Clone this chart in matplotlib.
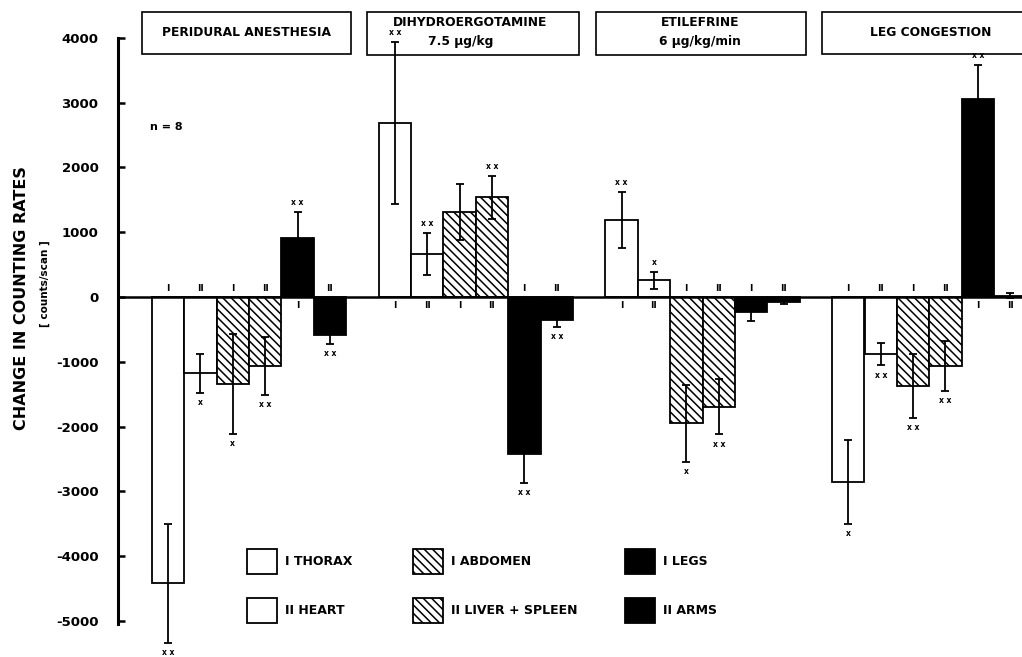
import matplotlib
matplotlib.use("Agg")
import matplotlib.pyplot as plt
from matplotlib.patches import Rectangle
import numpy as np

plt.rcParams['font.family'] = ['DejaVu Sans']
plt.rcParams['font.weight'] = 'bold'
plt.rcParams['hatch.linewidth'] = 1.1

# ---------------- data ----------------
conditions = [["PERIDURAL ANESTHESIA"], ["DIHYDROERGOTAMINE", "7.5 µg/kg"],
              ["ETILEFRINE", "6 µg/kg/min"], ["LEG CONGESTION"]]
regions = ["THORAX", "HEART", "ABDOMEN", "LIVER + SPLEEN", "LEGS", "ARMS"]
roman = ["I", "II", "I", "II", "I", "II"]

thorax = [-4420, 2680, 1190, -2850]
heart = [-1180, 660, 260, -880]
abdomen = [-1340, 1310, -1950, -1370]
liver = [-1060, 1540, -1690, -1070]
legs = [910, -2420, -230, 3050]
arms = [-590, -350, -70, 20]

thorax_err = [920, 1250, 430, 650]
heart_err = [300, 320, 130, 175]
abdomen_err = [770, 430, 590, 495]
liver_err = [450, 330, 430, 385]
legs_err = [400, 450, 140, 530]
arms_err = [130, 110, 40, 40]

thorax_sig = ["xx", "xx", "xx", "x"]
heart_sig = ["x", "xx", "x", "xx"]
abdomen_sig = ["x", "", "x", "xx"]
liver_sig = ["xx", "xx", "xx", "xx"]
legs_sig = ["xx", "xx", "", "xx"]
arms_sig = ["xx", "xx", "", ""]

yticks = [4000, 3000, 2000, 1000, 0, -1000, -2000, -3000, -4000, -5000]

series = [thorax, heart, abdomen, liver, legs, arms]
errors = [thorax_err, heart_err, abdomen_err, liver_err, legs_err, arms_err]
sigs = [thorax_sig, heart_sig, abdomen_sig, liver_sig, legs_sig, arms_sig]
fills = ["white", "white", "white", "white", "black", "black"]
hatches = [None, None, "\\\\\\\\", "\\\\\\\\", None, None]

# ---------------- figure ----------------
W, H = 1022, 657
fig = plt.figure(figsize=(W / 100, H / 100), dpi=100)

def fx(x):
    return x / W

def fy(y):
    return 1 - y / H

ax_left = 118
ax = fig.add_axes([fx(ax_left), 0, 1 - fx(ax_left), 1])
zero_px, scale = 297, 64.8  # pixels for y=0, pixels per 1000
ax.set_ylim(-(H - zero_px) / scale * 1000, zero_px / scale * 1000)
x0_px, unit = 167.9, 32.4
ax.set_xlim((ax_left - x0_px) / unit, (W - x0_px) / unit)

group_step = 7
for j, (vals, errs, sg) in enumerate(zip(series, errors, sigs)):
    xs = np.arange(len(conditions)) * group_step + j
    ax.bar(xs, vals, width=1.0, color=fills[j], edgecolor="black",
           linewidth=1.3, hatch=hatches[j], zorder=2)
    ax.errorbar(xs, vals, yerr=errs, fmt="none", ecolor="black",
                elinewidth=1.3, capsize=3, capthick=1.3, zorder=3)
    for x, v, e, s in zip(xs, vals, errs, sg):
        # roman numeral on the opposite side of the zero line
        if v < 0:
            ax.text(x, 135, roman[j], ha="center", va="center",
                    fontsize=6.5, fontweight="bold", zorder=4)
        else:
            ax.text(x, -135, roman[j], ha="center", va="center",
                    fontsize=6.5, fontweight="bold", zorder=4)
        if s:
            lab = " ".join(s)
            if v < 0:
                ax.text(x, v - e - 80, lab, ha="center", va="top",
                        fontsize=5.5, fontweight="bold", zorder=4)
            else:
                ax.text(x, v + e + 80, lab, ha="center", va="bottom",
                        fontsize=5.5, fontweight="bold", zorder=4)

ax.axhline(0, color="black", linewidth=1.8, zorder=3)

for s in ["top", "right", "bottom"]:
    ax.spines[s].set_visible(False)
ax.spines["left"].set_linewidth(2.2)
ax.spines["left"].set_bounds(-5050, 4000)
ax.set_xticks([])
ax.set_yticks(yticks)
ax.set_yticklabels([str(t) for t in yticks], fontsize=9.5, fontweight="bold")
ax.tick_params(axis="y", direction="in", length=5, width=1.8, pad=14)
ax.patch.set_alpha(0)

# y-axis title
fig.text(fx(22), fy(298), "CHANGE IN COUNTING RATES", rotation=90,
         ha="center", va="center", fontsize=11.5, fontweight="bold")
fig.text(fx(45), fy(284), "[ counts/scan ]", rotation=90,
         ha="center", va="center", fontsize=7.5, fontweight="bold")

fig.text(fx(150), fy(127), "n = 8", ha="left", va="center",
         fontsize=8, fontweight="bold")

# condition boxes (drawn beneath the axes so error bars/markers show on top)
boxes = [(142, 12, 351, 54), (367, 12, 579, 55), (596, 12, 806, 55), (822, 12, 1030, 54)]
centers = [246, 470, 700, 931]
second_shift = [0, -9, 0, 0]
for (x1, y1, x2, y2), cx, dx, lines in zip(boxes, centers, second_shift, conditions):
    fig.add_artist(Rectangle((fx(x1), fy(y2)), fx(x2 - x1), (y2 - y1) / H,
                             transform=fig.transFigure, facecolor="white",
                             edgecolor="black", linewidth=1.2, zorder=-1))
    if len(lines) == 1:
        fig.text(fx(cx), fy((y1 + y2) / 2), lines[0], ha="center", va="center",
                 fontsize=8.8, fontweight="bold", zorder=2)
    else:
        fig.text(fx(cx), fy(23), lines[0], ha="center", va="center",
                 fontsize=8.8, fontweight="bold", zorder=2)
        fig.text(fx(cx + dx), fy(41), lines[1], ha="center", va="center",
                 fontsize=8.8, fontweight="bold", zorder=2)

# legend
cols = [247, 413, 625]
rows = [549, 598]
for j, name in enumerate(regions):
    c, r = j // 2, j % 2
    x, y = cols[c], rows[r]
    fig.add_artist(Rectangle((fx(x), fy(y + 25)), fx(30), 25 / H,
                             transform=fig.transFigure, facecolor=fills[j],
                             edgecolor="black", linewidth=1.3, hatch=hatches[j]))
    fig.text(fx(x + 38), fy(y + 12.5), roman[j] + " " + name, ha="left",
             va="center", fontsize=9, fontweight="bold")

fig.savefig("out.png", dpi=100)
